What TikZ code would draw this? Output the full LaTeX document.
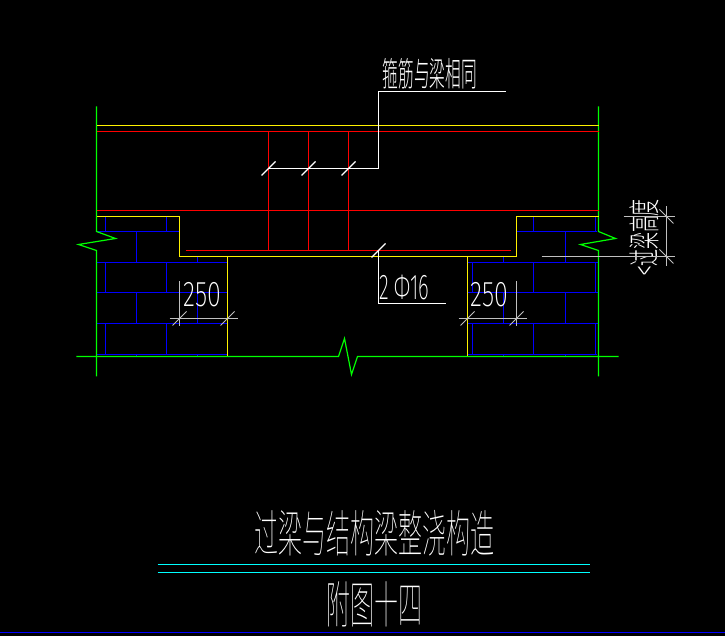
\documentclass[tikz,border=0pt]{standalone}
\usepackage{fontspec}
\usepackage{xcolor}
\newfontfamily\cjkfont{Noto Sans CJK SC Thin}
\newfontfamily\cjksmall{Noto Sans CJK SC Light}
\newfontfamily\dimfont{Fira Sans ExtraLight}
\definecolor{cadgreen}{RGB}{0,255,0}
\definecolor{cadblue}{RGB}{0,0,255}
\definecolor{cadcyan}{RGB}{0,255,255}
\definecolor{cadgrey}{RGB}{192,192,192}

\begin{document}
\begin{tikzpicture}[x=0.5pt,y=-0.5pt,line width=0.5pt]
    \tikzstyle{outline}=[cadgreen,line width=0.6pt]
    \tikzstyle{concrete}=[yellow,line width=0.6pt]
    \tikzstyle{rebar}=[red,line width=0.6pt]
    \tikzstyle{brick}=[cadblue,line width=0.65pt]
    \tikzstyle{dimline}=[cadgrey,line width=0.5pt]
    \tikzstyle{leader}=[white,line width=0.55pt]
    \tikzstyle{label}=[white,inner sep=0pt]

    \fill[black] (-0.5,-0.5) rectangle (724.5,635.5);
    \useasboundingbox (-0.5,-0.5) rectangle (724.5,635.5);

    % bricks, left and right of the opening
    \foreach \y/\a/\b in {231/97/179, 262/97/227, 292/97/227, 323/97/227, 354/97/227,
                          231/516/596, 262/467/598, 292/467/598, 323/467/598, 354/467/596}
        \draw[brick] (\a,\y) -- (\b,\y);
    \foreach \x in {105,166,533,595} {
        \draw[brick] (\x,216) -- (\x,231);
        \draw[brick] (\x,262) -- (\x,292);
        \draw[brick] (\x,323) -- (\x,354);
    }
    \foreach \x in {136,197,503,565} {
        \draw[brick] (\x,292) -- (\x,323);
        \draw[brick] (\x,354) -- (\x,356);
    }
    \foreach \x in {136,565}
        \draw[brick] (\x,231) -- (\x,262);
    \foreach \x in {197,503}
        \draw[brick] (\x,256) -- (\x,262);
    \draw[brick] (472,262) -- (472,292);
    \draw[brick] (472,323) -- (472,354);

    % outline with break marks
    \draw[outline] (96,106) -- (96,231) -- (115,238) -- (78,244) -- (96,250) -- (96,376);
    \draw[outline] (598,106) -- (598,231) -- (615,238) -- (580,244) -- (598,250) -- (598,376);
    \draw[outline] (76,356) -- (338,356) -- (344,338) -- (351,374) -- (357,356) -- (618,356);

    % concrete
    \draw[concrete] (97,125) -- (598,125);
    \draw[concrete] (97,216) -- (179,216) -- (179,256) -- (516,256) -- (516,216) -- (598,216);
    \draw[concrete] (227,256) -- (227,356);
    \draw[concrete] (467,256) -- (467,356);

    % reinforcement
    \draw[rebar] (97,131) -- (598,131);
    \draw[rebar] (97,210) -- (598,210);
    \draw[rebar] (185,250) -- (510,250);
    \foreach \x in {268,308,348}
        \draw[rebar] (\x,131) -- (\x,250);

    % leaders
    \node[label] (stirrup) at (429.5,73) {\cjksmall\scalebox{0.49}[1.05]{\fontsize{16pt}{16pt}\selectfont 箍筋与梁相同}};
    \node[label] (mainbar) at (404,287) {\dimfont\scalebox{0.6}[1.05]{\fontsize{17pt}{17pt}\selectfont 2 Φ16}};
    \coordinate (S) at (268,168);
    \coordinate (B) at (378,250);
    \draw[leader] (S) -- (378,168) -- (378,91) -- (505,91);
    \draw[leader] (B) -- (378,303) -- (445,303);
    \foreach \x in {268,308,348}
        \draw[leader] (\x-7,175) -- (\x+7,161);
    \draw[leader] (371,257) -- (385,243);

    % 250 dimensions
    \node[label] (dimL) at (201.5,294) {\dimfont\scalebox{0.74}[1.05]{\fontsize{17pt}{17pt}\selectfont 250}};
    \node[label] (dimR) at (489,294) {\dimfont\scalebox{0.74}[1.05]{\fontsize{17pt}{17pt}\selectfont 250}};
    \draw[dimline] (169,318) -- (237,318);
    \draw[dimline] (458,318) -- (526,318);
    \draw[dimline] (179,281) -- (179,326);
    \draw[dimline] (516,281) -- (516,326);
    \foreach \x in {179,227,467,516}
        \draw[dimline] (\x-7,325) -- (\x+7,311);

    % beam height dimension
    \node[label,rotate=90] (beamh) at (644,237) {\cjksmall\scalebox{0.53}[1]{\fontsize{16pt}{16pt}\selectfont <过梁高度}};
    \draw[dimline] (541,256) -- (674,256);
    \draw[dimline] (623,216) -- (674,216);
    \draw[dimline] (666,206) -- (666,266);
    \foreach \y in {216,256}
        \draw[dimline] (659,\y-7) -- (673,\y+7);

    % title
    \node[label] (title) at (374,533) {\cjkfont\scalebox{0.5}[1.05]{\fontsize{24pt}{24pt}\selectfont 过梁与结构梁整浇构造}};
    \node[label] (sub) at (373.5,604) {\cjkfont\scalebox{0.5}[1.05]{\fontsize{24pt}{24pt}\selectfont 附图十四}};
    \draw[cadcyan,line width=0.6pt] (157,564) -- (589,564);
    \draw[cadcyan,line width=0.6pt] (157,572) -- (589,572);
    \draw[cadblue,line width=0.8pt] (0,632) -- (725,632);
\end{tikzpicture}
\end{document}
